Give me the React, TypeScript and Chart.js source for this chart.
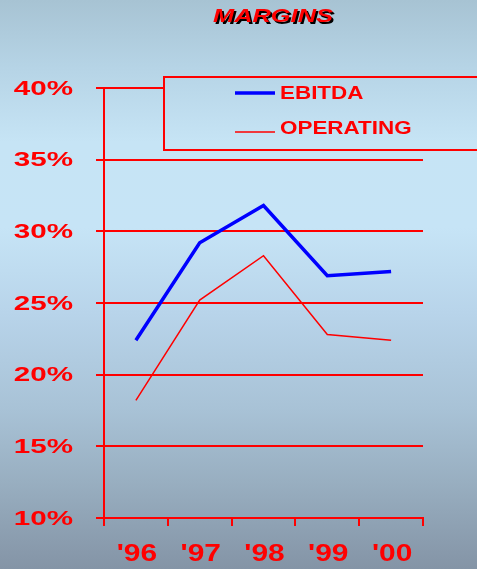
import React, { useEffect, useRef } from 'react';
import { Chart, registerables } from 'chart.js';

Chart.register(...registerables);

const categories = ["'96", "'97", "'98", "'99", "'00"];
const ebitda = [22.4, 29.2, 31.8, 26.9, 27.2];
const operating = [18.2, 25.2, 28.3, 22.8, 22.4];
const yTickValues = [10, 15, 20, 25, 30, 35, 40];
const seriesNames = ['EBITDA', 'OPERATING'];
const chartTitle = 'MARGINS';

const RED = '#ff0000';
const BLUE = '#0000ff';
const FAM = '"Liberation Sans", Arial, sans-serif';

function makeGradient(ctx: CanvasRenderingContext2D, h: number) {
  const g = ctx.createLinearGradient(0, 0, 0, h);
  g.addColorStop(0, '#a7c3d3');
  g.addColorStop(0.12, '#b6d4e6');
  g.addColorStop(0.25, '#c6e4f5');
  g.addColorStop(0.4, '#c6e4f6');
  g.addColorStop(0.55, '#b8d4ea');
  g.addColorStop(0.72, '#a8c2d6');
  g.addColorStop(0.85, '#98aec0');
  g.addColorStop(1, '#8494a6');
  return g;
}

function stretchedText(
  ctx: CanvasRenderingContext2D,
  text: string,
  x: number,
  y: number,
  sx: number,
  font: string,
  color: string,
  align: CanvasTextAlign
) {
  ctx.save();
  ctx.font = font;
  ctx.fillStyle = color;
  ctx.textAlign = align;
  ctx.textBaseline = 'middle';
  ctx.translate(x, y);
  ctx.scale(sx, 1);
  ctx.fillText(text, 0, 0);
  ctx.restore();
}

const decorPlugin = {
  id: 'decor',
  beforeDraw(chart: any) {
    const ctx = chart.ctx as CanvasRenderingContext2D;
    ctx.save();
    ctx.fillStyle = makeGradient(ctx, chart.height);
    ctx.fillRect(0, 0, chart.width, chart.height);
    ctx.restore();
  },
  afterDraw(chart: any) {
    const ctx = chart.ctx as CanvasRenderingContext2D;
    const ys = chart.scales.y;
    const xs = chart.scales.x;
    const area = chart.chartArea;

    // y tick labels
    yTickValues.forEach((v) => {
      const py = ys.getPixelForValue(v);
      stretchedText(ctx, `${v}%`, ys.right - 31, py + 1, 1.48, `bold 20px ${FAM}`, RED, 'right');
    });

    // x tick labels
    categories.forEach((c, i) => {
      const px = xs.getPixelForValue(i);
      stretchedText(ctx, c, px + 1, xs.top + 37, 1.3, `bold 23px ${FAM}`, RED, 'center');
    });

    // legend box
    const bx = area.left + 60;
    const by = area.top - 11;
    const bh = 73;
    ctx.save();
    ctx.fillStyle = makeGradient(ctx, chart.height);
    ctx.fillRect(bx, by, chart.width - bx + 10, bh);
    ctx.strokeStyle = RED;
    ctx.lineWidth = 2;
    ctx.strokeRect(bx, by, chart.width - bx + 10, bh);
    ctx.restore();

    const ds = chart.data.datasets;
    const rows = [
      { lineY: by + 16, textY: by + 17 },
      { lineY: by + 55, textY: by + 52 },
    ];
    ds.forEach((d: any, i: number) => {
      const r = rows[i];
      ctx.save();
      ctx.strokeStyle = d.borderColor;
      ctx.lineWidth = d.borderWidth;
      ctx.beginPath();
      ctx.moveTo(bx + 71, r.lineY);
      ctx.lineTo(bx + 111, r.lineY);
      ctx.stroke();
      ctx.restore();
      stretchedText(ctx, d.label, bx + 116, r.textY, 1.18, `bold 19px ${FAM}`, RED, 'left');
    });

    // title
    const tx = 273;
    const ty = 17;
    stretchedText(ctx, chartTitle, tx + 2, ty + 2, 1.41, `italic bold 18px ${FAM}`, '#000000', 'center');
    stretchedText(ctx, chartTitle, tx, ty, 1.41, `italic bold 18px ${FAM}`, RED, 'center');
  },
};

export default function App() {
  const canvasRef = useRef<HTMLCanvasElement | null>(null);

  useEffect(() => {
    const canvas = canvasRef.current;
    if (!canvas) return;
    const chart = new Chart(canvas, {
      type: 'line',
      data: {
        labels: categories,
        datasets: [
          {
            label: seriesNames[0],
            data: ebitda,
            borderColor: BLUE,
            borderWidth: 3.5,
            pointRadius: 0,
            tension: 0,
            fill: false,
          },
          {
            label: seriesNames[1],
            data: operating,
            borderColor: RED,
            borderWidth: 1.5,
            pointRadius: 0,
            tension: 0,
            fill: false,
          },
        ],
      },
      options: {
        animation: false,
        responsive: true,
        maintainAspectRatio: false,
        devicePixelRatio: 1,
        layout: { padding: { top: 88, right: 54, left: 0, bottom: 0 } },
        plugins: {
          legend: { display: false },
          title: { display: false },
          tooltip: { enabled: false },
        },
        scales: {
          x: {
            type: 'category',
            offset: true,
            ticks: { display: false, autoSkip: false },
            grid: {
              display: true,
              offset: true,
              drawOnChartArea: false,
              drawTicks: true,
              tickLength: 8,
              color: RED,
              lineWidth: 2,
            },
            border: { display: true, color: RED, width: 2 },
            afterFit: (scale: any) => {
              scale.height = 51;
            },
          },
          y: {
            min: 10,
            max: 40,
            ticks: { display: false, stepSize: 5 },
            grid: {
              display: true,
              drawTicks: true,
              tickLength: 8,
              color: RED,
              lineWidth: 2,
            },
            border: { display: true, color: RED, width: 2 },
            afterFit: (scale: any) => {
              scale.width = 104;
            },
          },
        },
      },
      plugins: [decorPlugin],
    } as any);
    return () => chart.destroy();
  }, []);

  return (
    <div style={{ position: 'absolute', left: 0, top: 0, width: 477, height: 569 }}>
      <canvas ref={canvasRef} />
    </div>
  );
}
